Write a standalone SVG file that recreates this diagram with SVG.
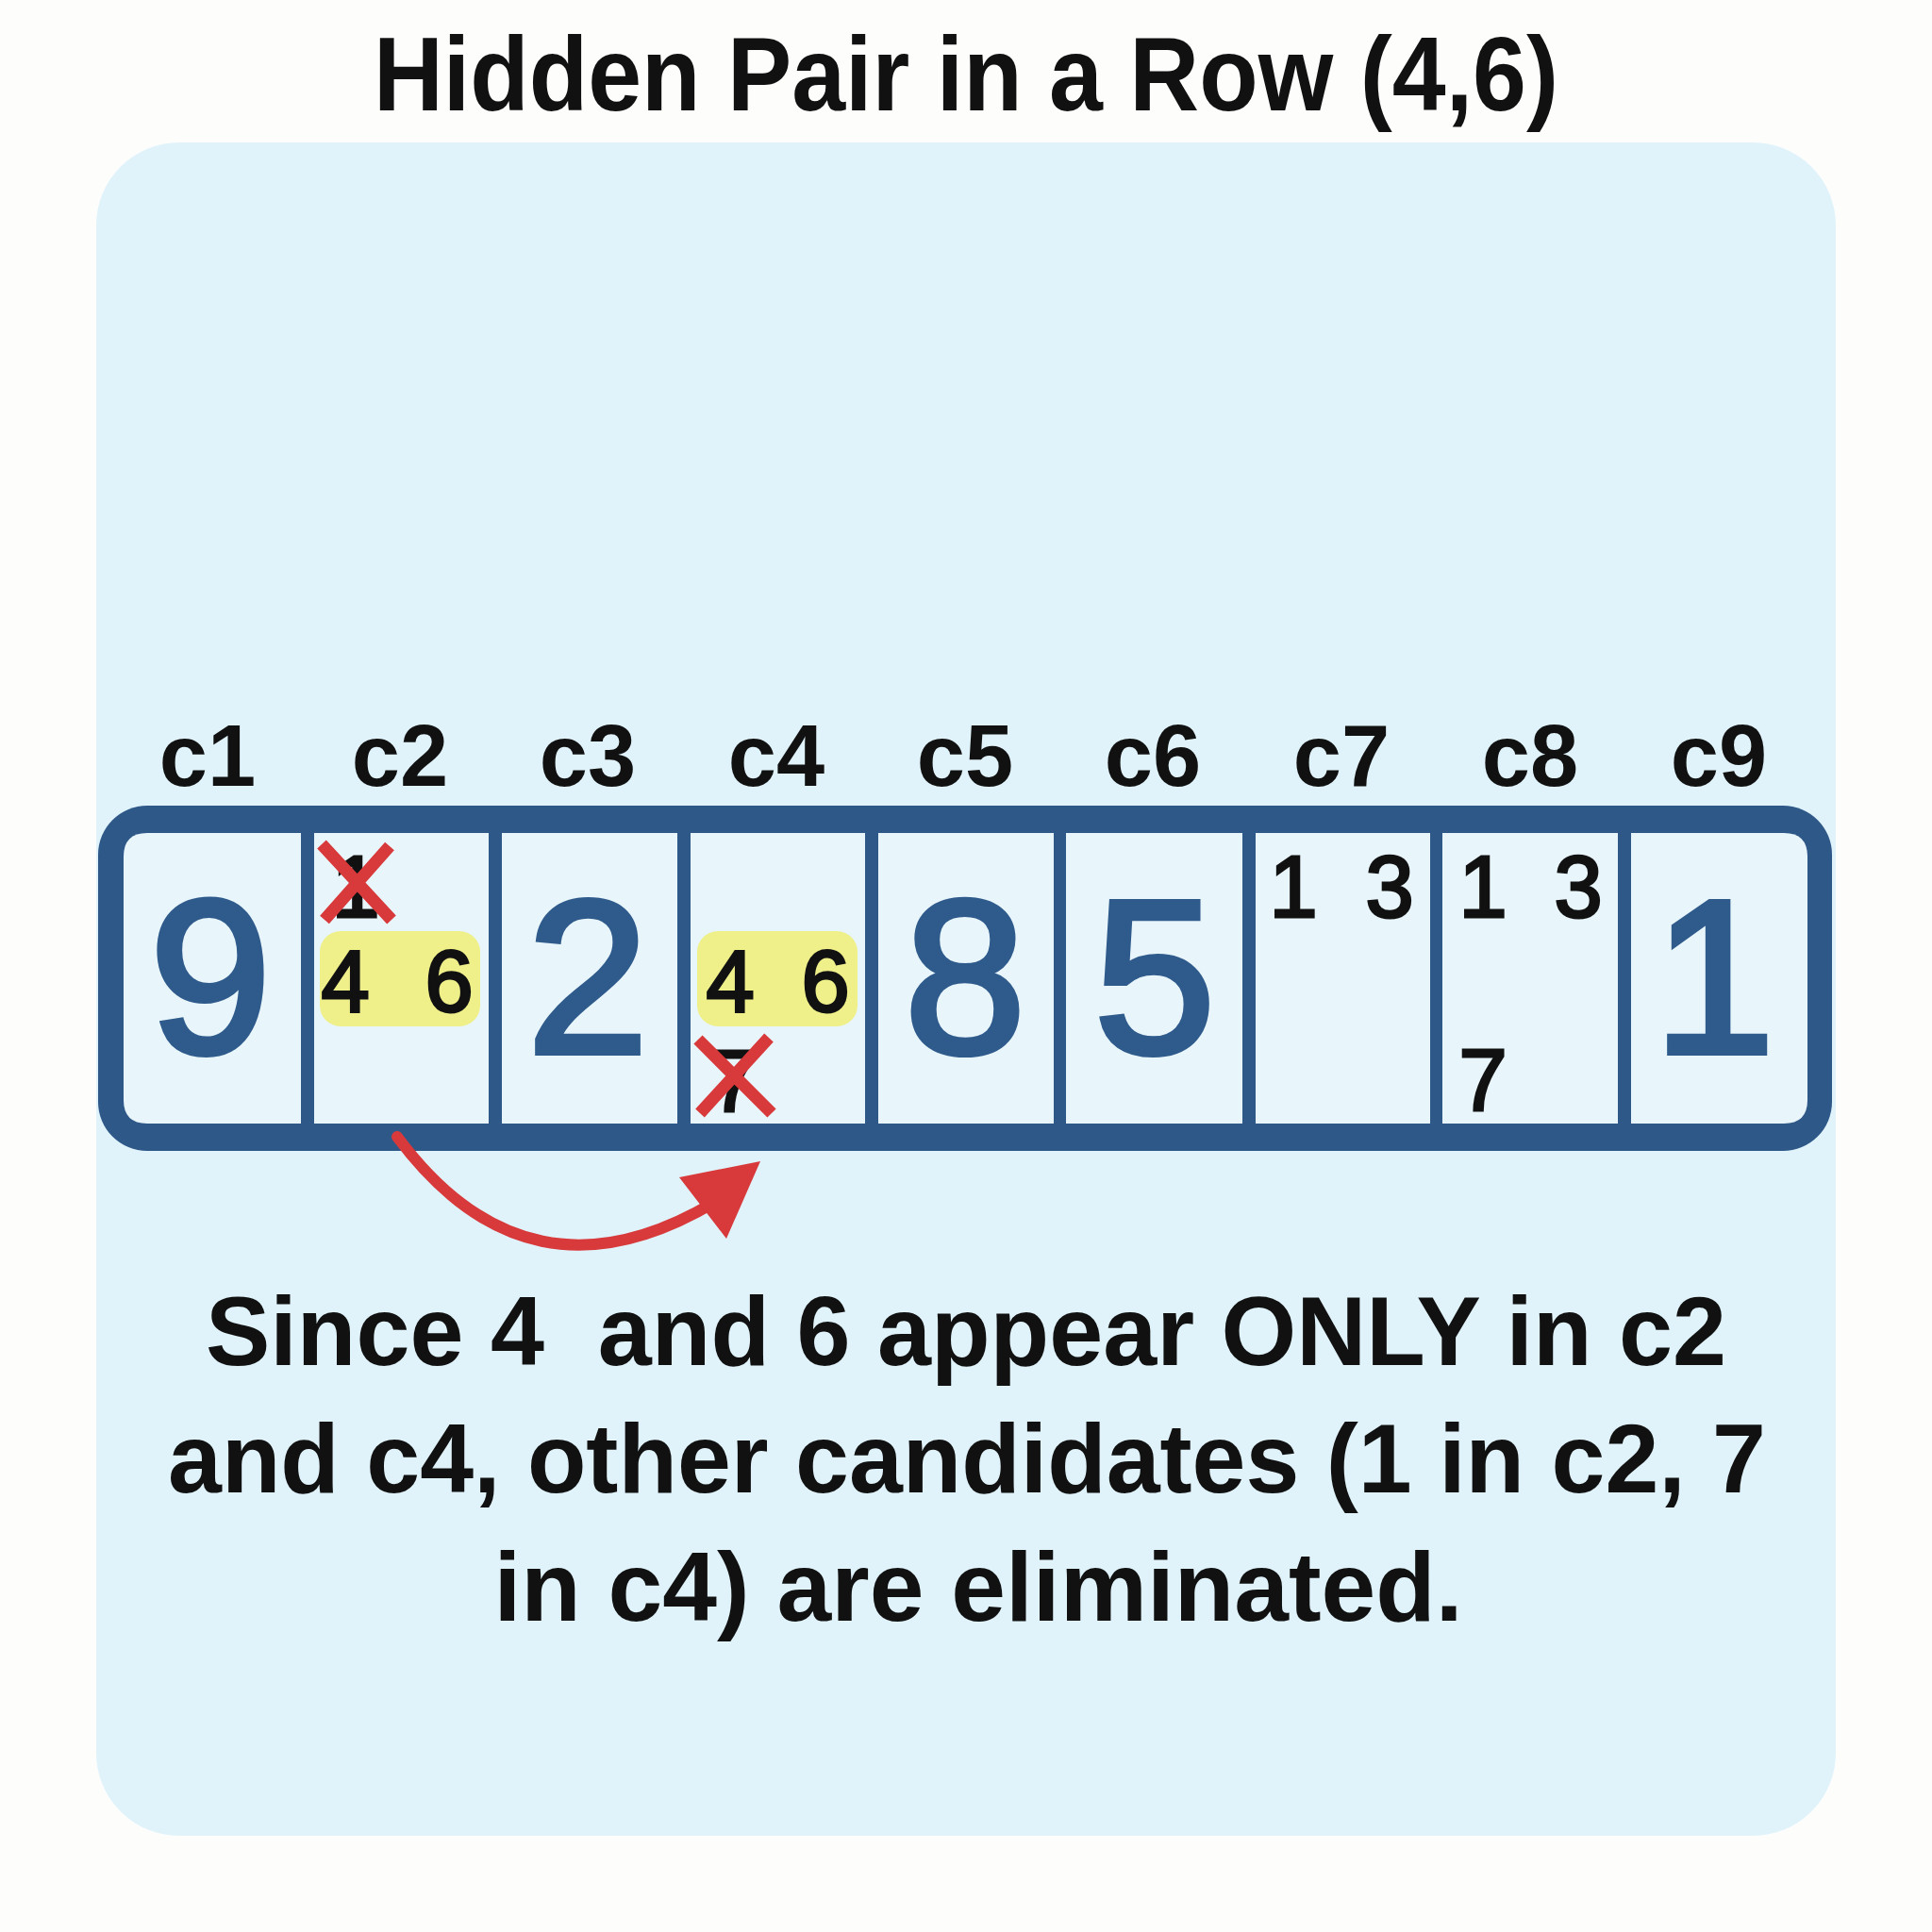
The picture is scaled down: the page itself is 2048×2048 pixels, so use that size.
<svg xmlns="http://www.w3.org/2000/svg" width="2048" height="2048" viewBox="0 0 2048 2048">
  <style>
    .title { font-family: "Liberation Sans", Arial, sans-serif; font-weight: bold; font-size: 112px; fill: #111; }
    .body { font-family: "Liberation Sans", Arial, sans-serif; font-weight: bold; font-size: 104px; fill: #111; }
    .col { font-family: "Liberation Sans", Arial, sans-serif; font-weight: bold; font-size: 92px; fill: #111; text-anchor: middle; }
    .big { font-family: "Liberation Sans", Arial, sans-serif; font-size: 232px; fill: #2f5b8c; stroke: #2f5b8c; stroke-width: 6; text-anchor: middle; }
    .cand { font-family: "Liberation Sans", Arial, sans-serif; font-size: 92px; fill: #111; stroke: #111; stroke-width: 3; text-anchor: middle; }
    .cell { fill: #e8f5fb; }
    .hl { fill: #eff08a; }
    .xmark { stroke: #d8393b; stroke-width: 13; stroke-linecap: butt; fill: none; }
  </style>
  <rect x="0" y="0" width="2048" height="2048" fill="#fdfdfc"/>
  <rect id="panel" x="102" y="151" width="1844" height="1795" rx="88" fill="#e0f3fa"/>

  <g id="title">
    <text class="title" x="1024" y="117" text-anchor="middle" textLength="1256" lengthAdjust="spacingAndGlyphs">Hidden Pair in a Row (4,6)</text>
  </g>

  <g id="column-labels">
    <text class="col" x="220" y="833">c1</text>
    <text class="col" x="424" y="833">c2</text>
    <text class="col" x="623" y="833">c3</text>
    <text class="col" x="823" y="833">c4</text>
    <text class="col" x="1023" y="833">c5</text>
    <text class="col" x="1222" y="833">c6</text>
    <text class="col" x="1422" y="833">c7</text>
    <text class="col" x="1622" y="833">c8</text>
    <text class="col" x="1822" y="833">c9</text>
  </g>

  <g id="row-frame">
    <rect x="104" y="854" width="1838" height="366" rx="52" fill="#2e5888"/>
  </g>

  <g id="cell-c1">
    <path class="cell" d="M 156 883 L 319 883 L 319 1191 L 156 1191 Q 131 1191 131 1166 L 131 908 Q 131 883 156 883 Z"/>
    <text class="big" x="223" y="1116">9</text>
  </g>
  <g id="cell-c2">
    <rect class="cell" x="333" y="883" width="185" height="308"/>
    <rect class="hl" x="339" y="987" width="170" height="101" rx="22"/>
    <text class="cand" x="377" y="972">1</text>
    <path class="xmark" d="M 341 895 L 415 975 M 413 897 L 344 975"/>
    <text class="cand" x="366" y="1072">4</text>
    <text class="cand" x="476" y="1072">6</text>
  </g>
  <g id="cell-c3">
    <rect class="cell" x="532" y="883" width="186" height="308"/>
    <text class="big" x="623" y="1116">2</text>
  </g>
  <g id="cell-c4">
    <rect class="cell" x="732" y="883" width="185" height="308"/>
    <rect class="hl" x="739" y="987" width="170" height="101" rx="22"/>
    <text class="cand" x="774" y="1072">4</text>
    <text class="cand" x="875" y="1072">6</text>
    <text class="cand" x="778" y="1178">7</text>
    <path class="xmark" d="M 740 1102 L 818 1180 M 815 1100 L 742 1180"/>
  </g>
  <g id="cell-c5">
    <rect class="cell" x="931" y="883" width="186" height="308"/>
    <text class="big" x="1023" y="1116">8</text>
  </g>
  <g id="cell-c6">
    <rect class="cell" x="1130" y="883" width="187" height="308"/>
    <text class="big" x="1224" y="1116">5</text>
  </g>
  <g id="cell-c7">
    <rect class="cell" x="1331" y="883" width="185" height="308"/>
    <text class="cand" x="1371" y="972">1</text>
    <text class="cand" x="1473" y="972">3</text>
  </g>
  <g id="cell-c8">
    <rect class="cell" x="1529" y="883" width="186" height="308"/>
    <text class="cand" x="1572" y="972">1</text>
    <text class="cand" x="1673" y="972">3</text>
    <text class="cand" x="1572" y="1177">7</text>
  </g>
  <g id="cell-c9">
    <path class="cell" d="M 1729 883 L 1891 883 Q 1916 883 1916 908 L 1916 1166 Q 1916 1191 1891 1191 L 1729 1191 Z"/>
    <text class="big" x="1817" y="1116">1</text>
  </g>

  <g id="connectors">
    <path d="M 421 1205 Q 560 1392 758 1274" fill="none" stroke="#d8393b" stroke-width="12" stroke-linecap="round"/>
    <polygon points="806,1231 720,1248 770,1313" fill="#d8393b"/>
  </g>

  <g id="explanation">
    <text class="body" x="1024" y="1447" text-anchor="middle" textLength="1612" lengthAdjust="spacingAndGlyphs" xml:space="preserve">Since 4  and 6 appear ONLY in c2</text>
    <text class="body" x="1025" y="1582" text-anchor="middle" textLength="1694" lengthAdjust="spacingAndGlyphs">and c4, other candidates (1 in c2, 7</text>
    <text class="body" x="1037" y="1718" text-anchor="middle" textLength="1027" lengthAdjust="spacingAndGlyphs">in c4) are eliminated.</text>
  </g>
</svg>
